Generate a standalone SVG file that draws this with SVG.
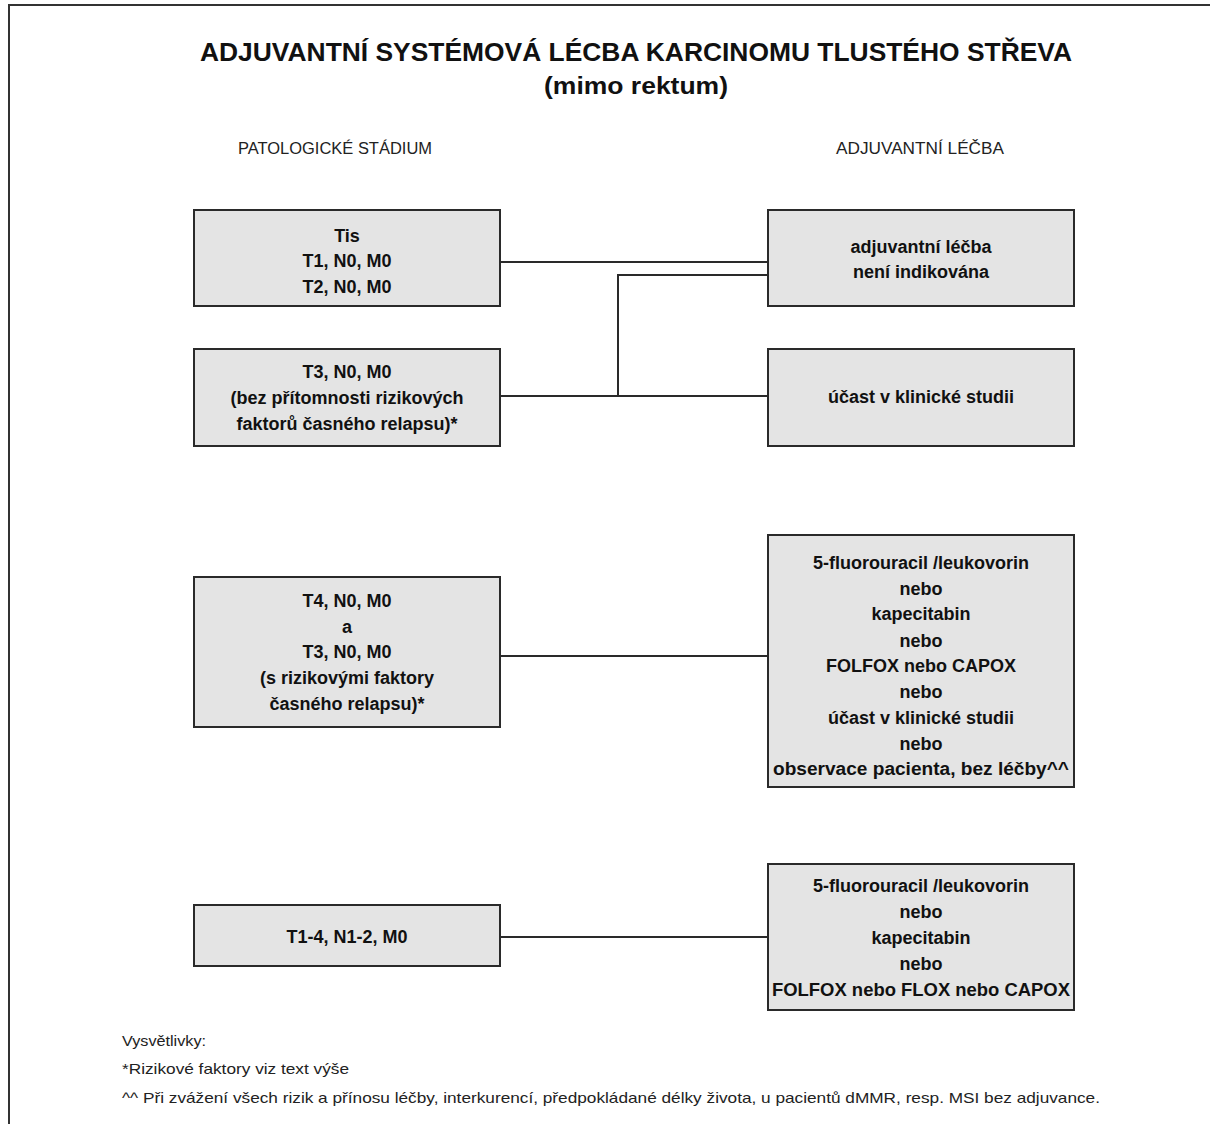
<svg xmlns="http://www.w3.org/2000/svg" width="1210" height="1124" viewBox="0 0 1210 1124">
<style>
.box{fill:#e4e4e4;stroke:#2a2a2a;stroke-width:2}
.t{font-family:"Liberation Sans",Arial,sans-serif;font-weight:bold;font-size:18px;fill:#111;text-anchor:middle}
.h{font-family:"Liberation Sans",Arial,sans-serif;font-size:16px;fill:#222;text-anchor:middle}
.f{font-family:"Liberation Sans",Arial,sans-serif;font-size:15px;fill:#222}
.c{stroke:#2a2a2a;stroke-width:2;fill:none}
</style>
<rect width="1210" height="1124" fill="#fff"/>
<path d="M9,1124 V5 H1210" fill="none" stroke="#333" stroke-width="2"/>
<text x="636" y="61" font-family="'Liberation Sans',Arial,sans-serif" font-weight="bold" font-size="25" fill="#111" text-anchor="middle" textLength="872" lengthAdjust="spacingAndGlyphs">ADJUVANTNÍ SYSTÉMOVÁ LÉCBA KARCINOMU TLUSTÉHO STŘEVA</text>
<text x="636" y="94" font-family="'Liberation Sans',Arial,sans-serif" font-weight="bold" font-size="23" fill="#111" text-anchor="middle" textLength="184" lengthAdjust="spacingAndGlyphs">(mimo rektum)</text>
<text class="h" x="335" y="154" textLength="194" lengthAdjust="spacingAndGlyphs">PATOLOGICKÉ STÁDIUM</text>
<text class="h" x="920" y="154" textLength="168" lengthAdjust="spacingAndGlyphs">ADJUVANTNÍ LÉČBA</text>
<g id="connectors">
<path class="c" d="M500,262 H768"/>
<path class="c" d="M768,275 H618 V396"/>
<path class="c" d="M500,396 H768"/>
<path class="c" d="M500,656 H768"/>
<path class="c" d="M500,937 H768"/>
</g>
<g id="n1">
<rect class="box" x="194" y="210" width="306" height="96"/>
<text class="t" x="347" y="242">Tis</text>
<text class="t" x="347" y="267">T1, N0, M0</text>
<text class="t" x="347" y="293">T2, N0, M0</text>
</g>
<g id="n2">
<rect class="box" x="194" y="349" width="306" height="97"/>
<text class="t" x="347" y="378">T3, N0, M0</text>
<text class="t" x="347" y="404">(bez přítomnosti rizikových</text>
<text class="t" x="347" y="430">faktorů časného relapsu)*</text>
</g>
<g id="n3">
<rect class="box" x="768" y="210" width="306" height="96"/>
<text class="t" x="921" y="253">adjuvantní léčba</text>
<text class="t" x="921" y="278">není indikována</text>
</g>
<g id="n4">
<rect class="box" x="768" y="349" width="306" height="97"/>
<text class="t" x="921" y="403">účast v klinické studii</text>
</g>
<g id="n5">
<rect class="box" x="194" y="577" width="306" height="150"/>
<text class="t" x="347" y="607">T4, N0, M0</text>
<text class="t" x="347" y="633">a</text>
<text class="t" x="347" y="658">T3, N0, M0</text>
<text class="t" x="347" y="684">(s rizikovými faktory</text>
<text class="t" x="347" y="710">časného relapsu)*</text>
</g>
<g id="n6">
<rect class="box" x="768" y="535" width="306" height="252"/>
<text class="t" x="921" y="569">5-fluorouracil /leukovorin</text>
<text class="t" x="921" y="595">nebo</text>
<text class="t" x="921" y="620">kapecitabin</text>
<text class="t" x="921" y="647">nebo</text>
<text class="t" x="921" y="672">FOLFOX nebo CAPOX</text>
<text class="t" x="921" y="698">nebo</text>
<text class="t" x="921" y="724">účast v klinické studii</text>
<text class="t" x="921" y="750">nebo</text>
<text class="t" x="921" y="775" textLength="296" lengthAdjust="spacingAndGlyphs">observace pacienta, bez léčby^^</text>
</g>
<g id="n7">
<rect class="box" x="194" y="905" width="306" height="61"/>
<text class="t" x="347" y="943">T1-4, N1-2, M0</text>
</g>
<g id="n8">
<rect class="box" x="768" y="864" width="306" height="146"/>
<text class="t" x="921" y="892">5-fluorouracil /leukovorin</text>
<text class="t" x="921" y="918">nebo</text>
<text class="t" x="921" y="944">kapecitabin</text>
<text class="t" x="921" y="970">nebo</text>
<text class="t" x="921" y="996" textLength="298" lengthAdjust="spacingAndGlyphs">FOLFOX nebo FLOX nebo CAPOX</text>
</g>
<text class="f" x="122" y="1046" textLength="84" lengthAdjust="spacingAndGlyphs">Vysvětlivky:</text>
<text class="f" x="122" y="1074" textLength="227" lengthAdjust="spacingAndGlyphs">*Rizikové faktory viz text výše</text>
<text class="f" x="122" y="1103" textLength="978" lengthAdjust="spacingAndGlyphs">^^ Při zvážení všech rizik a přínosu léčby, interkurencí, předpokládané délky života, u pacientů dMMR, resp. MSI bez adjuvance.</text>
</svg>
